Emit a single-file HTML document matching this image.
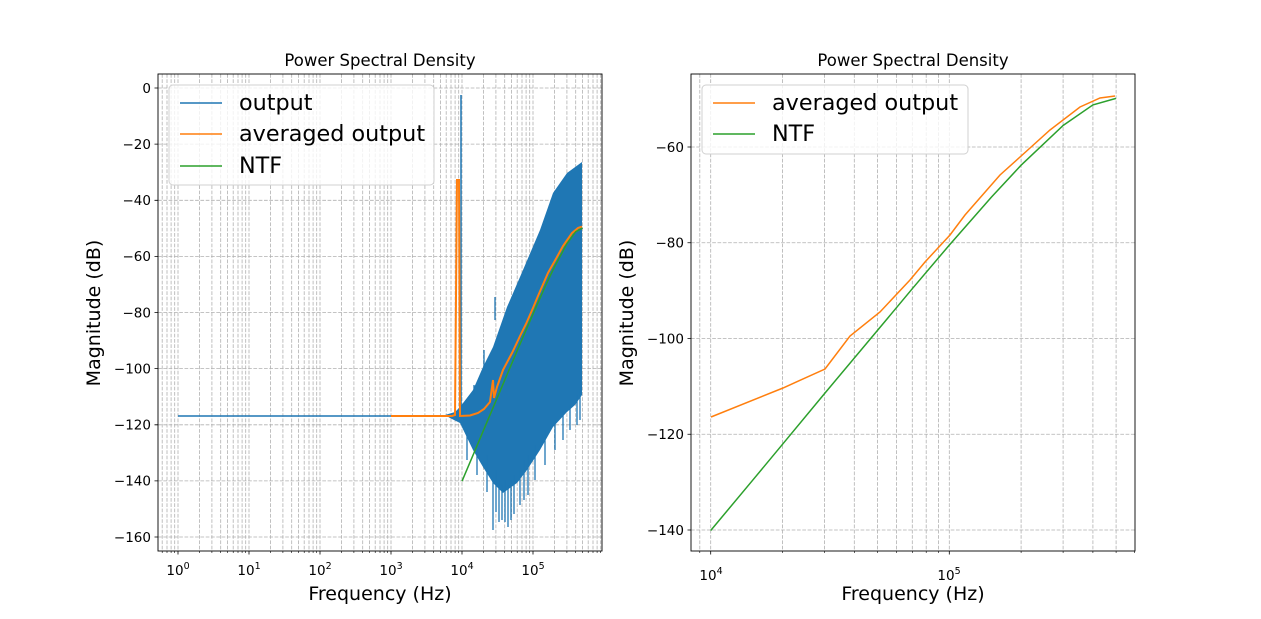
<!DOCTYPE html>
<html><head><meta charset="utf-8"><style>
html,body{margin:0;padding:0;background:#fff}
svg{display:block;font-family:"DejaVu Sans","Liberation Sans",sans-serif}
.g{stroke:#b0b0b0;stroke-width:0.8;stroke-dasharray:3.7,1.6}
.t{stroke:#000;stroke-width:0.8}
.m{stroke:#000;stroke-width:0.6}
</style></head><body>
<svg width="1261" height="619" viewBox="0 0 1261 619" xmlns="http://www.w3.org/2000/svg">
<g class="g">
<path d="M162.2,74V551M167,74V551M171.1,74V551M174.7,74V551M178,74V551M199.4,74V551M211.9,74V551M220.7,74V551M227.6,74V551M233.2,74V551M238,74V551M242.1,74V551M245.7,74V551M249,74V551M270.4,74V551M282.9,74V551M291.7,74V551M298.6,74V551M304.2,74V551M309,74V551M313.1,74V551M316.7,74V551M320,74V551M341.4,74V551M353.9,74V551M362.7,74V551M369.6,74V551M375.2,74V551M380,74V551M384.1,74V551M387.7,74V551M391,74V551M412.4,74V551M424.9,74V551M433.7,74V551M440.6,74V551M446.2,74V551M451,74V551M455.1,74V551M458.7,74V551M462,74V551M483.4,74V551M495.9,74V551M504.7,74V551M511.6,74V551M517.2,74V551M522,74V551M526.1,74V551M529.7,74V551M533,74V551M554.4,74V551M566.9,74V551M575.7,74V551M582.6,74V551M588.2,74V551M593,74V551M597.1,74V551M600.7,74V551"/>
<path d="M158,88H602M158,144.1H602M158,200.3H602M158,256.4H602M158,312.5H602M158,368.6H602M158,424.8H602M158,480.9H602M158,537H602"/>
</g>
<path class="m" d="M162.2,551v2M167,551v2M171.1,551v2M174.7,551v2M199.4,551v2M211.9,551v2M220.7,551v2M227.6,551v2M233.2,551v2M238,551v2M242.1,551v2M245.7,551v2M270.4,551v2M282.9,551v2M291.7,551v2M298.6,551v2M304.2,551v2M309,551v2M313.1,551v2M316.7,551v2M341.4,551v2M353.9,551v2M362.7,551v2M369.6,551v2M375.2,551v2M380,551v2M384.1,551v2M387.7,551v2M412.4,551v2M424.9,551v2M433.7,551v2M440.6,551v2M446.2,551v2M451,551v2M455.1,551v2M458.7,551v2M483.4,551v2M495.9,551v2M504.7,551v2M511.6,551v2M517.2,551v2M522,551v2M526.1,551v2M529.7,551v2M554.4,551v2M566.9,551v2M575.7,551v2M582.6,551v2M588.2,551v2M593,551v2M597.1,551v2M600.7,551v2"/>
<path class="t" d="M178,551v3.5M249,551v3.5M320,551v3.5M391,551v3.5M462,551v3.5M533,551v3.5M154.5,88H158M154.5,144.1H158M154.5,200.3H158M154.5,256.4H158M154.5,312.5H158M154.5,368.6H158M154.5,424.8H158M154.5,480.9H158M154.5,537H158"/>
<g font-size="13.5" text-anchor="end">
<text x="151" y="93">0</text><text x="151" y="149">−20</text><text x="151" y="205">−40</text><text x="151" y="261">−60</text><text x="151" y="317.5">−80</text><text x="151" y="373.5">−100</text><text x="151" y="429.5">−120</text><text x="151" y="485.5">−140</text><text x="151" y="542">−160</text>
</g>
<g font-size="13.5" text-anchor="middle">
<text x="178" y="575">10<tspan font-size="9.5" dy="-6">0</tspan></text>
<text x="249" y="575">10<tspan font-size="9.5" dy="-6">1</tspan></text>
<text x="320" y="575">10<tspan font-size="9.5" dy="-6">2</tspan></text>
<text x="391" y="575">10<tspan font-size="9.5" dy="-6">3</tspan></text>
<text x="462" y="575">10<tspan font-size="9.5" dy="-6">4</tspan></text>
<text x="533" y="575">10<tspan font-size="9.5" dy="-6">5</tspan></text>
</g>
<path d="M178,416H456" stroke="#1f77b4" stroke-width="1.5" fill="none"/>
<path d="M461,418V95" stroke="#1f77b4" stroke-width="1.5"/>
<polygon points="445,415 455,412 460,407 473,390 483,367 493,347 507,307 523,270 540,230 553,193 567,173 582,162 582,395 575,405 567,412 553,427 540,450 527,470 517,483 503,493 493,483 483,467 473,450 460,423 450,418" fill="#1f77b4"/>
<path d="M493,480V530M496,470V512M499,480V522M502,485V520M505,480V522M508,485V527M511,480V520M514,475V514M520,470V505M524,460V500M528,455V495M535,445V480M545,430V465M555,420V450M563,410V440M570,405V430M577,395V425M580,390V420M467,430V460M477,440V475M487,455V492M495,297V320M474,385V395M484,350V370" stroke="#1f77b4" stroke-width="1.3"/>
<path d="M391,416L452,416L455,415L457,180L459,180L460,416L470,415.5L478,413L484,409L490,402L493,380L494,398L497,387L503,370L512,353L521,334L526,324L533,308L538,296L548,273L557,257L563,246L572,233L578,228L582,226.5" stroke="#ff7f0e" stroke-width="2" fill="none"/>
<path d="M462,481.2L474.5,451.7L483.4,430.6L495.9,400.9L511.6,363.9L522,339.4L533,313.9L545.5,285.8L554.4,267L566.9,243.7L575.7,231.7L582.6,228" stroke="#2ca02c" stroke-width="1.5" fill="none"/>
<rect x="158" y="74" width="444" height="477" fill="none" stroke="#000" stroke-width="0.9"/>
<text x="380" y="66" font-size="16.5" text-anchor="middle">Power Spectral Density</text>
<text x="380" y="600" font-size="19" text-anchor="middle">Frequency (Hz)</text>
<text transform="translate(100,313) rotate(-90)" font-size="19" text-anchor="middle">Magnitude (dB)</text>
<rect x="169" y="85" width="265" height="100" rx="4" fill="#fff" fill-opacity="0.8" stroke="#d0d0d0"/>
<line x1="180" y1="103" x2="222" y2="103" stroke="#1f77b4" stroke-width="1.5"/><text x="239" y="110" font-size="22.3">output</text>
<line x1="180" y1="134" x2="222" y2="134" stroke="#ff7f0e" stroke-width="1.5"/><text x="239" y="141" font-size="22.3">averaged output</text>
<line x1="180" y1="166" x2="222" y2="166" stroke="#2ca02c" stroke-width="1.5"/><text x="239" y="173" font-size="22.3">NTF</text>
<g class="g">
<path d="M699.8,74V551M710.7,74V551M782.5,74V551M824.5,74V551M854.3,74V551M877.5,74V551M896.4,74V551M912.3,74V551M926.2,74V551M938.4,74V551M949.3,74V551M1021.1,74V551M1063.1,74V551M1092.9,74V551M1116.1,74V551"/>
<path d="M691,147H1135M691,242.75H1135M691,338.5H1135M691,434.25H1135M691,530H1135"/>
</g>
<path class="m" d="M699.8,551v2M782.5,551v2M824.5,551v2M854.3,551v2M877.5,551v2M896.4,551v2M912.3,551v2M926.2,551v2M938.4,551v2M1021.1,551v2M1063.1,551v2M1092.9,551v2M1116.1,551v2M1134.5,551v2"/>
<path class="t" d="M710.7,551v3.5M949.3,551v3.5M687.5,147H691M687.5,242.75H691M687.5,338.5H691M687.5,434.25H691M687.5,530H691"/>
<g font-size="13.5" text-anchor="end">
<text x="684" y="152">−60</text><text x="684" y="247.7">−80</text><text x="684" y="343.5">−100</text><text x="684" y="439.2">−120</text><text x="684" y="535">−140</text>
</g>
<g font-size="13.5" text-anchor="middle">
<text x="711" y="580">10<tspan font-size="9.5" dy="-6">4</tspan></text>
<text x="949" y="580">10<tspan font-size="9.5" dy="-6">5</tspan></text>
</g>
<path d="M711,417L783,388L825,369L850,336L880,312L910,280L925,262L950,235L965,215L1000,175L1030,148L1050,130L1080,107L1100,98L1115,96" stroke="#ff7f0e" stroke-width="1.5" fill="none"/>
<path d="M710.7,530.5L752.7,480.2L782.5,444.3L824.5,393.6L877.5,330.4L912.3,288.7L949.3,245.1L991.3,197.3L1021.1,165.2L1063.1,125.5L1092.9,104.9L1116,98.4" stroke="#2ca02c" stroke-width="1.5" fill="none"/>
<rect x="691" y="74" width="444" height="477" fill="none" stroke="#000" stroke-width="0.9"/>
<text x="913" y="66" font-size="16.5" text-anchor="middle">Power Spectral Density</text>
<text x="913" y="600" font-size="19" text-anchor="middle">Frequency (Hz)</text>
<text transform="translate(633,313) rotate(-90)" font-size="19" text-anchor="middle">Magnitude (dB)</text>
<rect x="702" y="85" width="266" height="69" rx="4" fill="#fff" fill-opacity="0.8" stroke="#d0d0d0"/>
<line x1="713" y1="103" x2="755" y2="103" stroke="#ff7f0e" stroke-width="1.5"/><text x="772" y="110" font-size="22.3">averaged output</text>
<line x1="713" y1="134" x2="755" y2="134" stroke="#2ca02c" stroke-width="1.5"/><text x="772" y="141" font-size="22.3">NTF</text>
</svg>
</body></html>
